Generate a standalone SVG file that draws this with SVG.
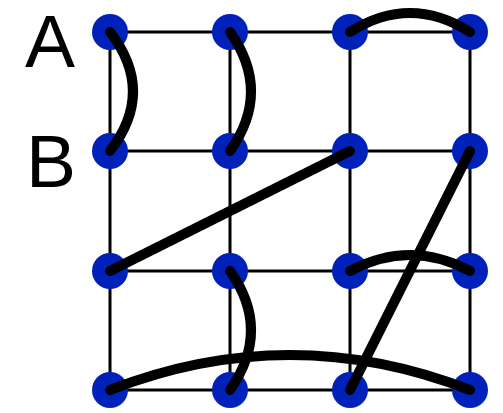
<svg xmlns="http://www.w3.org/2000/svg" width="503" height="413" viewBox="0 0 503 413">
<style>
.grid{stroke:#000;stroke-width:3;fill:none}
.edge{stroke:#000;stroke-width:10;fill:none;stroke-linecap:round}
.dot{fill:#0022bb}
.lbl{font-family:"Liberation Sans",Arial,sans-serif;font-size:75px;fill:#000;text-anchor:middle}
</style>
<rect width="503" height="413" fill="#fff"/>
<g id="grid" class="grid">
<path d="M110 32H470M110 151H470M110 271H470M110 390H470M110 32V390M230 32V390M350 32V390M470 32V390"/>
</g>
<g id="nodes">
<g id="n00"><circle class="dot" cx="110" cy="32" r="18"/></g>
<g id="n01"><circle class="dot" cx="230" cy="32" r="18"/></g>
<g id="n02"><circle class="dot" cx="350" cy="32" r="18"/></g>
<g id="n03"><circle class="dot" cx="470" cy="32" r="18"/></g>
<g id="n10"><circle class="dot" cx="110" cy="151" r="18"/></g>
<g id="n11"><circle class="dot" cx="230" cy="151" r="18"/></g>
<g id="n12"><circle class="dot" cx="350" cy="151" r="18"/></g>
<g id="n13"><circle class="dot" cx="470" cy="151" r="18"/></g>
<g id="n20"><circle class="dot" cx="110" cy="271" r="18"/></g>
<g id="n21"><circle class="dot" cx="230" cy="271" r="18"/></g>
<g id="n22"><circle class="dot" cx="350" cy="271" r="18"/></g>
<g id="n23"><circle class="dot" cx="470" cy="271" r="18"/></g>
<g id="n30"><circle class="dot" cx="110" cy="390" r="18"/></g>
<g id="n31"><circle class="dot" cx="230" cy="390" r="18"/></g>
<g id="n32"><circle class="dot" cx="350" cy="390" r="18"/></g>
<g id="n33"><circle class="dot" cx="470" cy="390" r="18"/></g>
</g>
<g id="connectors" class="edge">
<path d="M110 32Q156 91.5 110 151"/>
<path d="M230 32Q272 91.5 230 151"/>
<path d="M350 32Q410 -6 470 32"/>
<path d="M350 151L110 271"/>
<path d="M470 151L350 390"/>
<path d="M350 271Q410 239 470 271"/>
<path d="M230 271Q272 330 230 390"/>
<path d="M110 390Q290 320 470 390"/>
</g>
<g id="labels">
<text class="lbl" x="50" y="67">A</text>
<text class="lbl" x="51" y="187">B</text>
</g>
</svg>
